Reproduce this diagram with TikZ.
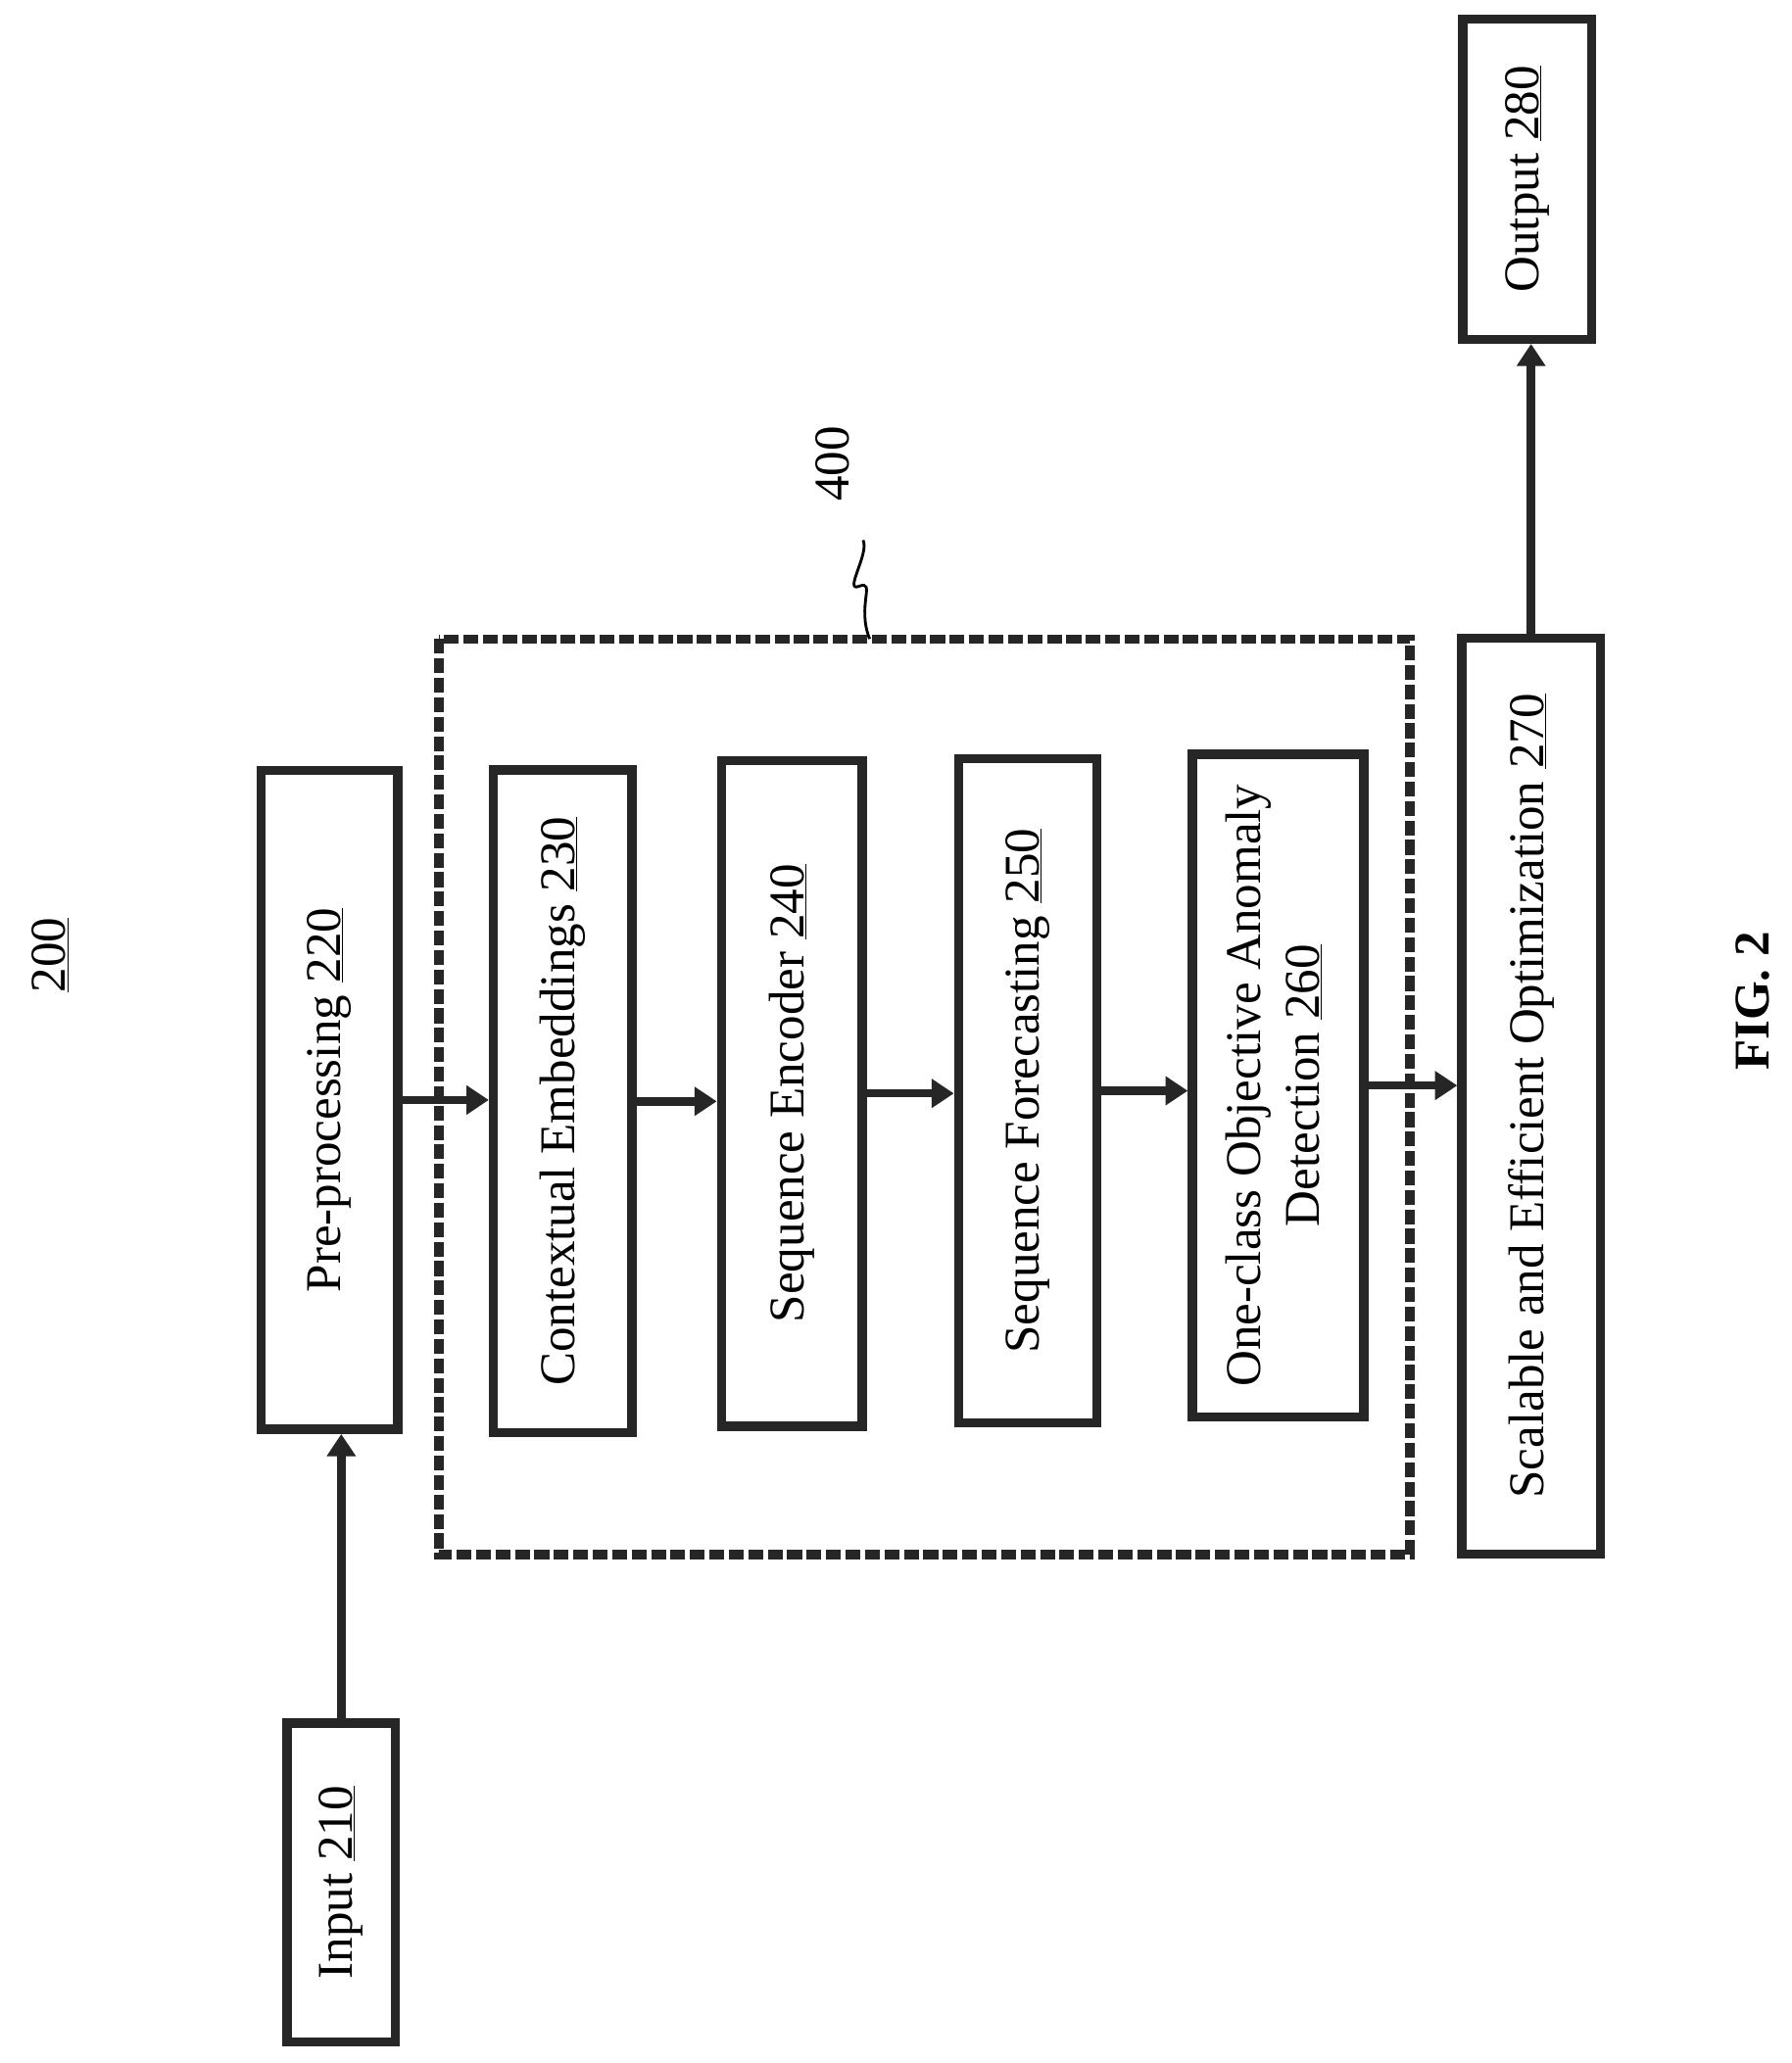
\documentclass[tikz,border=0pt]{standalone}
\usepackage{fontspec}
\setmainfont{Liberation Serif}
\usetikzlibrary{arrows.meta}
\begin{document}
\begin{tikzpicture}[x=0.05cm,y=-0.05cm,
  box/.style={draw=black!85,line width=10pt,inner sep=0pt,font=\fontsize{54}{64}\selectfont,align=center},
  arr/.style={draw=black!85,line width=9pt,-{Triangle[length=24pt,width=30pt]}},
  lbl/.style={font=\fontsize{54}{64}\selectfont}]
\useasboundingbox (0,0) rectangle (1360,1566);
\node[box,minimum width=82*0.05cm,minimum height=242*0.05cm] (in) at (259,1429) {\rotatebox{90}{Input \underline{210}}};
\node[box,minimum width=104*0.05cm,minimum height=500*0.05cm] (pre) at (250,835) {\rotatebox{90}{Pre-processing \underline{220}}};
\node[box,minimum width=105*0.05cm,minimum height=503*0.05cm] (ce) at (427,836) {\rotatebox{90}{Contextual Embeddings \underline{230}}};
\node[box,minimum width=107*0.05cm,minimum height=505*0.05cm] (se) at (601,830) {\rotatebox{90}{Sequence Encoder \underline{240}}};
\node[box,minimum width=105*0.05cm,minimum height=504*0.05cm] (sf) at (780,828) {\rotatebox{90}{Sequence Forecasting \underline{250}}};
\node[box,minimum width=130*0.05cm,minimum height=503*0.05cm] (oc) at (970,824) {\rotatebox{90}{\begin{tabular}{c}One-class Objective Anomaly\\Detection \underline{260}\end{tabular}}};
\node[box,minimum width=105*0.05cm,minimum height=695*0.05cm] (so) at (1162,832) {\rotatebox{90}{Scalable and Efficient Optimization \underline{270}}};
\node[box,minimum width=98*0.05cm,minimum height=243*0.05cm] (out) at (1159,136) {\rotatebox{90}{Output \underline{280}}};
\draw[draw=black!85,line width=10pt,dash pattern=on 16pt off 5pt] (333,485) rectangle (1070,1180);
\node[lbl,rotate=90] (n200) at (38,725) {\underline{200}};
\node[lbl,rotate=90] (fig) at (1330,760) {\textbf{FIG. 2}};
\node[lbl,rotate=90] (n400) at (632,352) {400};
\coordinate (s1) at (660,485);
\coordinate (s2) at (655,410);
\draw[line width=3pt] (s1) .. controls (650,460) and (665,440) .. (652,445) .. controls (640,450) and (660,420) .. (s2);
\draw[arr] (in.north) -- (in.north |- pre.south);
\draw[arr] (pre.east) -- (pre.east -| ce.west);
\draw[arr] (ce.east) -- (ce.east -| se.west);
\draw[arr] (se.east) -- (se.east -| sf.west);
\draw[arr] (sf.east) -- (sf.east -| oc.west);
\draw[arr] (oc.east) -- (oc.east -| so.west);
\draw[arr] (so.north) -- (so.north |- out.south);
\end{tikzpicture}
\end{document}
